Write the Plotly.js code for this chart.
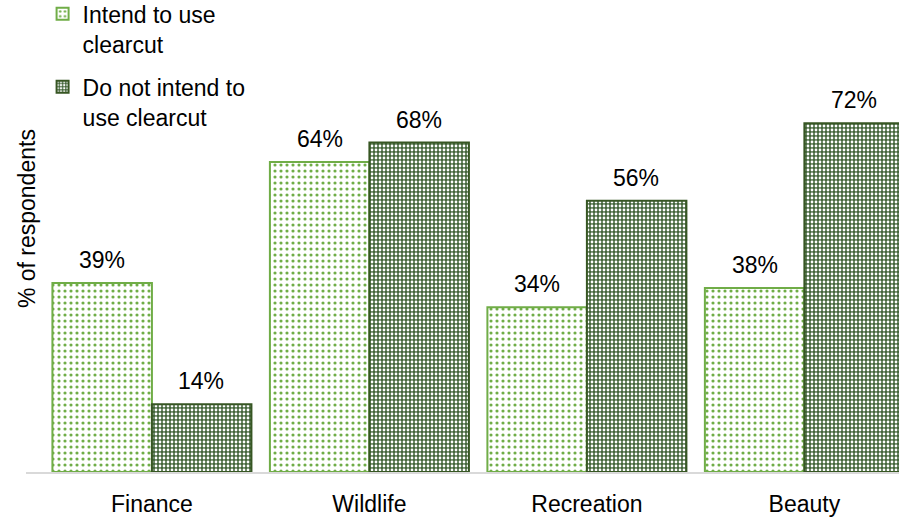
<!DOCTYPE html>
<html>
<head>
<meta charset="utf-8">
<script src="https://cdn.plot.ly/plotly-3.0.1.min.js"></script>
<style>html,body{margin:0;padding:0;background:#fff;}#chart{width:899px;height:518px;}</style>
</head>
<body>
<div id="chart"></div>
<script>
const categories = ["Finance", "Wildlife", "Recreation", "Beauty"];
const seriesNames = ["Intend to use<br>clearcut", "Do not intend to<br>use clearcut"];
const intendValues = [39, 64, 34, 38];
const notIntendValues = [14, 68, 56, 72];
const valueLabels = [["39%", "64%", "34%", "38%"], ["14%", "68%", "56%", "72%"]];

const FONT = "Liberation Sans, Arial, sans-serif";
const FS = 23;
const lightGreen = "#70AD47";
const darkGreen = "#375623";

const traces = [
  {
    type: "bar", name: seriesNames[0], legendgroup: "a", x: categories, y: intendValues,
    marker: {
      color: "#ffffff",
      line: {color: lightGreen, width: 2},
      pattern: {shape: ".", fgcolor: lightGreen, bgcolor: "#ffffff", size: 6, solidity: 0.22}
    },
    hoverinfo: "skip"
  },
  {
    type: "bar", name: seriesNames[1], legendgroup: "b", x: categories, y: notIntendValues,
    marker: {
      color: "#4f7040",
      line: {color: darkGreen, width: 2},
      pattern: {shape: ".", fgcolor: "#ffffff", bgcolor: "#43653a", size: 4, solidity: 0.38}
    },
    hoverinfo: "skip"
  }
];

const annotations = [];
[intendValues, notIntendValues].forEach((vals, si) => {
  vals.forEach((v, ci) => {
    annotations.push({
      x: categories[ci], y: v, xref: "x", yref: "y",
      text: valueLabels[si][ci], showarrow: false,
      xshift: si === 0 ? -49.5 : 49.5, yanchor: "bottom", yshift: 8,
      font: {family: FONT, size: FS, color: "#000"}
    });
  });
});
annotations.push({
  text: "% of respondents", xref: "paper", yref: "paper",
  x: 0, xshift: 1, y: 0.58, showarrow: false, textangle: -90,
  xanchor: "center", yanchor: "middle",
  font: {family: FONT, size: FS, color: "#000"}
});

const layout = {
  width: 899, height: 518,
  margin: {l: 26, r: 0, t: 36, b: 46, pad: 0, autoexpand: false},
  paper_bgcolor: "#ffffff", plot_bgcolor: "#ffffff",
  barmode: "group", bargap: 0.085, bargroupgap: 0,
  font: {family: FONT, size: FS, color: "#000"},
  xaxis: {
    range: [-0.579, 3.435], showline: true, linecolor: "#d9d9d9", linewidth: 2,
    ticks: "", showgrid: false, zeroline: false, fixedrange: true, automargin: false,
    ticklabelstandoff: 10,
    tickfont: {family: FONT, size: FS, color: "#000"}
  },
  yaxis: {range: [0, 90], visible: false, showgrid: false, zeroline: false, fixedrange: true, automargin: false},
  showlegend: true,
  legend: {
    x: 0.019, y: 1.1, xanchor: "left", yanchor: "top",
    font: {family: FONT, size: FS, color: "#000"},
    traceorder: "grouped",
    valign: "top", itemwidth: 30, tracegroupgap: 10, bgcolor: "rgba(0,0,0,0)"
  },
  annotations: annotations
};

Plotly.newPlot("chart", traces, layout, {displayModeBar: false, staticPlot: true});
</script>
</body>
</html>
